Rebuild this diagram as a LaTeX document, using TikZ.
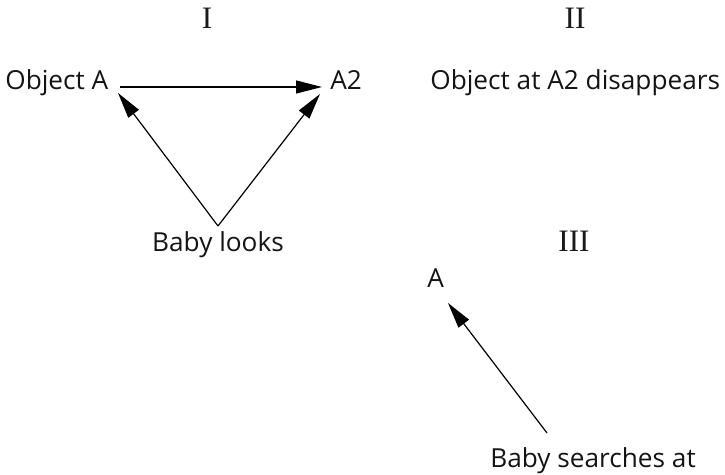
\documentclass[tikz,border=0pt]{standalone}
\usepackage{fontspec}
\setmainfont{Liberation Serif}
\newfontfamily\labelfont{Open Sans}
\usetikzlibrary{arrows.meta}
\tikzset{
  lbl/.style={font=\labelfont\fontsize{13.1pt}{15pt}\selectfont, inner sep=0pt, text=black!92},
  numeral/.style={font=\fontsize{15.6pt}{18pt}\selectfont, inner sep=0pt, anchor=base, text=black!90},
  conn/.style={line width=0.6pt, -{Triangle[length=13pt,width=6.5pt]}}
}
\begin{document}
\begin{tikzpicture}[x=0.5pt,y=-0.5pt]
\useasboundingbox (0,0) rectangle (725,475);
% headings
\node[numeral] (n1) at (207,29) {I};
\node[numeral] (n2) at (575,29) {II};
\node[numeral] (n3) at (574,252) {III};
% labels
\node[lbl, anchor=base west] (objA) at (5,90) {Object A};
\node[lbl, anchor=base west] (a2) at (330,90) {A2};
\node[lbl, anchor=base west] (dis) at (430,90) {Object at A2 disappears};
\node[lbl, anchor=base] (baby) at (218,252) {Baby looks};
\node[lbl, anchor=base west] (a) at (427,288) {A};
\node[lbl, anchor=base west] (search) at (490,468) {Baby searches at};
% connector end points
\coordinate (hs) at (120,87);
\coordinate (he) at (322,87);
\coordinate (apex) at (218,226);
\coordinate (lt) at (118,93);
\coordinate (rt) at (320,94);
\coordinate (st) at (547,433);
\coordinate (se) at (448,303);
% connectors
\draw[conn] (hs) -- (he);
\draw[conn] (apex) -- (lt);
\draw[conn] (apex) -- (rt);
\draw[conn] (st) -- (se);
\end{tikzpicture}
\end{document}
